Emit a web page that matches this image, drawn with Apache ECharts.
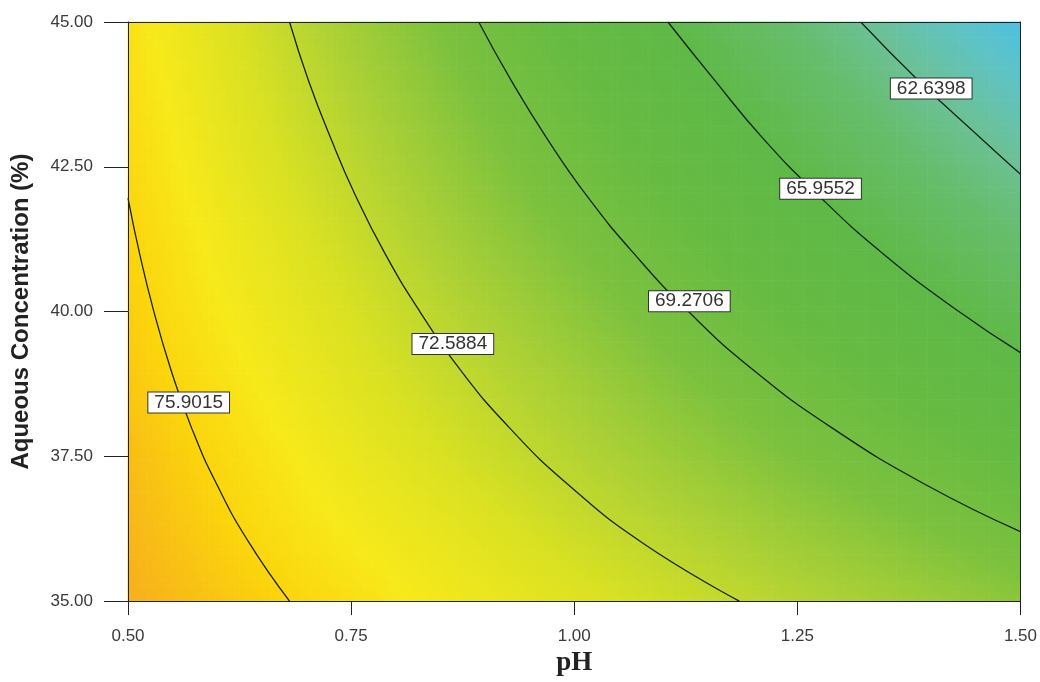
<!DOCTYPE html>
<html>
<head>
<meta charset="utf-8">
<title>Contour - pH vs Aqueous Concentration</title>
<script src="https://cdn.jsdelivr.net/npm/echarts@6/dist/echarts.min.js"></script>
<style>
  html, body { margin: 0; padding: 0; background: #fff; }
  #chart { width: 1040px; height: 682px; }
</style>
</head>
<body>
<div id="chart"></div>
<script>
// grid of the response surface
const phValues = [0.5, 0.625, 0.75, 0.875, 1.0, 1.125, 1.25, 1.375, 1.5];
const concValues = [35, 36.25, 37.5, 38.75, 40, 41.25, 42.5, 43.75, 45];
// one row per concentration (bottom to top), columns follow phValues
const response = [
  [77.1, 76.3, 75.5, 74.6, 73.8, 73.0, 72.2, 71.4, 70.6],
  [76.9, 75.9, 74.9, 74.0, 73.0, 72.1, 71.1, 70.2, 69.2],
  [76.7, 75.6, 74.4, 73.3, 72.2, 71.1, 70.0, 69.0, 67.9],
  [76.4, 75.2, 73.9, 72.7, 71.5, 70.2, 69.0, 67.8, 66.5],
  [76.2, 74.8, 73.5, 72.1, 70.7, 69.3, 67.9, 66.6, 65.2],
  [76.0, 74.5, 73.0, 71.4, 69.9, 68.4, 66.9, 65.4, 63.9],
  [75.8, 74.1, 72.5, 70.8, 69.1, 67.5, 65.8, 64.2, 62.6],
  [75.6, 73.8, 72.0, 70.2, 68.4, 66.6, 64.8, 63.0, 61.2],
  [75.4, 73.5, 71.5, 69.6, 67.6, 65.7, 63.8, 61.8, 59.9]
];

// contour lines [pH, concentration]
const contourLevels = ['75.9015', '72.5884', '69.2706', '65.9552', '62.6398'];
const contour75 = [[0.5, 41.96], [0.513, 41], [0.529, 40], [0.548, 39], [0.571, 38],
  [0.600, 37], [0.636, 36], [0.681, 35]];
const contour72 = [[0.681, 45], [0.702, 44], [0.727, 43], [0.755, 42], [0.788, 41], [0.827, 40],
  [0.872, 39], [0.927, 38], [0.994, 37], [1.077, 36], [1.185, 35]];
const contour69 = [[0.893, 45], [0.929, 44], [0.969, 43], [1.014, 42], [1.067, 41], [1.128, 40],
  [1.200, 39], [1.288, 38], [1.395, 37], [1.5, 36.2]];
const contour65 = [[1.105, 45], [1.157, 44], [1.211, 43], [1.274, 42], [1.346, 41], [1.431, 40],
  [1.5, 39.29]];
const contour62 = [[1.321, 45], [1.385, 44], [1.455, 43], [1.5, 42.37]];
const contourLines = [contour75, contour72, contour69, contour65, contour62];
// where each level label box sits
const labelSpots = [[0.568, 38.43], [0.864, 39.44], [1.129, 40.18], [1.276, 42.12], [1.400, 43.85]];

const xTicks = { min: 0.5, max: 1.5, step: 0.25 };
const yTicks = { min: 35, max: 45, step: 2.5 };

// colour ramp (value -> colour)
const rampValues = [59.5, 61, 62.5, 64, 66, 68, 70, 72, 73.5, 75, 76, 77, 77.6];
const rampColors = ['#47bfe9', '#5ec3c6', '#6bc196', '#66bd6b', '#5fb947', '#66bb42', '#7cc13e',
  '#b0d234', '#d9e122', '#f7e91a', '#fbd40c', '#f7b31a', '#f4a321'];

function hexRgb(h) {
  return [parseInt(h.slice(1, 3), 16), parseInt(h.slice(3, 5), 16), parseInt(h.slice(5, 7), 16)];
}
const rampRgb = rampColors.map(hexRgb);

function colorOf(v) {
  if (v <= rampValues[0]) return 'rgb(' + rampRgb[0].join(',') + ')';
  const n = rampValues.length;
  if (v >= rampValues[n - 1]) return 'rgb(' + rampRgb[n - 1].join(',') + ')';
  let k = 0;
  while (v > rampValues[k + 1]) k++;
  const f = (v - rampValues[k]) / (rampValues[k + 1] - rampValues[k]);
  const a = rampRgb[k], b = rampRgb[k + 1];
  return 'rgb(' + Math.round(a[0] + (b[0] - a[0]) * f) + ',' +
    Math.round(a[1] + (b[1] - a[1]) * f) + ',' + Math.round(a[2] + (b[2] - a[2]) * f) + ')';
}

const cells = [];
for (let j = 0; j < concValues.length - 1; j++) {
  for (let i = 0; i < phValues.length - 1; i++) {
    cells.push([i, j]);
  }
}

// each cell is shaded between its four corner readings
function renderCell(params, api) {
  const i = api.value(0), j = api.value(1);
  const v00 = response[j][i], v10 = response[j][i + 1];
  const v01 = response[j + 1][i], v11 = response[j + 1][i + 1];
  const p0 = api.coord([phValues[i], concValues[j]]);
  const p1 = api.coord([phValues[i + 1], concValues[j + 1]]);
  const nx = 18, ny = 14;
  const w = (p1[0] - p0[0]) / nx, h = (p0[1] - p1[1]) / ny;
  const children = [];
  for (let a = 0; a < nx; a++) {
    for (let b = 0; b < ny; b++) {
      const u = (a + 0.5) / nx, t = (b + 0.5) / ny;
      const v = v00 * (1 - u) * (1 - t) + v10 * u * (1 - t) + v01 * (1 - u) * t + v11 * u * t;
      children.push({
        type: 'rect',
        shape: { x: p0[0] + a * w - 0.3, y: p0[1] - (b + 1) * h - 0.3, width: w + 0.6, height: h + 0.6 },
        style: { fill: colorOf(v) },
        silent: true
      });
    }
  }
  return { type: 'group', children: children };
}

const axisColor = '#222';
const labelFont = { fontFamily: 'Liberation Sans, Arial, sans-serif', fontSize: 17, color: '#3a3a3a' };

const chart = echarts.init(document.getElementById('chart'), null, { renderer: 'canvas' });

const series = [{
  type: 'custom',
  renderItem: renderCell,
  data: cells,
  z: 1,
  silent: true
}];

contourLines.forEach(function (pts, k) {
  series.push({
    name: contourLevels[k],
    type: 'line',
    data: pts,
    showSymbol: false,
    smooth: true,
    lineStyle: { color: '#15231b', width: 1.3 },
    z: 3,
    silent: true
  });
});

series.push({
  type: 'scatter',
  data: labelSpots.map(function (p, k) { return { value: p, name: contourLevels[k] }; }),
  symbol: 'rect',
  symbolSize: 1,
  itemStyle: { color: '#ffffff', opacity: 1 },
  label: {
    show: true,
    position: 'inside',
    formatter: '{b}',
    fontFamily: 'Liberation Sans, Arial, sans-serif',
    fontSize: 19,
    color: '#333',
    opacity: 1,
    backgroundColor: '#ffffff',
    borderColor: '#333',
    borderWidth: 1,
    padding: [1, 6, 0, 6]
  },
  z: 10,
  silent: true
});

chart.setOption({
  animation: false,
  backgroundColor: '#fff',
  grid: { left: 128, top: 22, width: 893, height: 585 },
  xAxis: [{
    type: 'value',
    min: xTicks.min,
    max: xTicks.max,
    interval: xTicks.step,
    z: 5,
    name: 'pH',
    nameLocation: 'middle',
    nameGap: 43,
    nameTextStyle: { fontFamily: 'Liberation Serif, Times New Roman, serif', fontWeight: 'bold', fontSize: 27, color: '#222' },
    axisLine: { show: true, onZero: false, lineStyle: { color: axisColor, width: 1 } },
    axisTick: { show: true, inside: false, length: 14, lineStyle: { color: axisColor } },
    axisLabel: Object.assign({ margin: 27, formatter: function (v) { return v.toFixed(2); } }, labelFont),
    splitLine: { show: false }
  }, {
    type: 'value',
    position: 'top',
    min: xTicks.min,
    max: xTicks.max,
    z: 5,
    axisLine: { show: true, lineStyle: { color: axisColor, width: 1 } },
    axisTick: { show: false },
    axisLabel: { show: false },
    splitLine: { show: false }
  }],
  yAxis: [{
    type: 'value',
    min: yTicks.min,
    max: yTicks.max,
    interval: yTicks.step,
    z: 5,
    name: 'Aqueous Concentration (%)',
    nameLocation: 'middle',
    nameGap: 95,
    nameTextStyle: { fontFamily: 'Liberation Sans, Arial, sans-serif', fontWeight: 'bold', fontSize: 24, color: '#222' },
    axisLine: { show: true, onZero: false, lineStyle: { color: axisColor, width: 1 } },
    axisTick: { show: true, inside: false, length: 24, lineStyle: { color: axisColor } },
    axisLabel: Object.assign({ margin: 35, formatter: function (v) { return v.toFixed(2); } }, labelFont),
    splitLine: { show: false }
  }, {
    type: 'value',
    position: 'right',
    min: yTicks.min,
    max: yTicks.max,
    z: 5,
    axisLine: { show: true, lineStyle: { color: axisColor, width: 1 } },
    axisTick: { show: false },
    axisLabel: { show: false },
    splitLine: { show: false }
  }],
  series: series
});
</script>
</body>
</html>
